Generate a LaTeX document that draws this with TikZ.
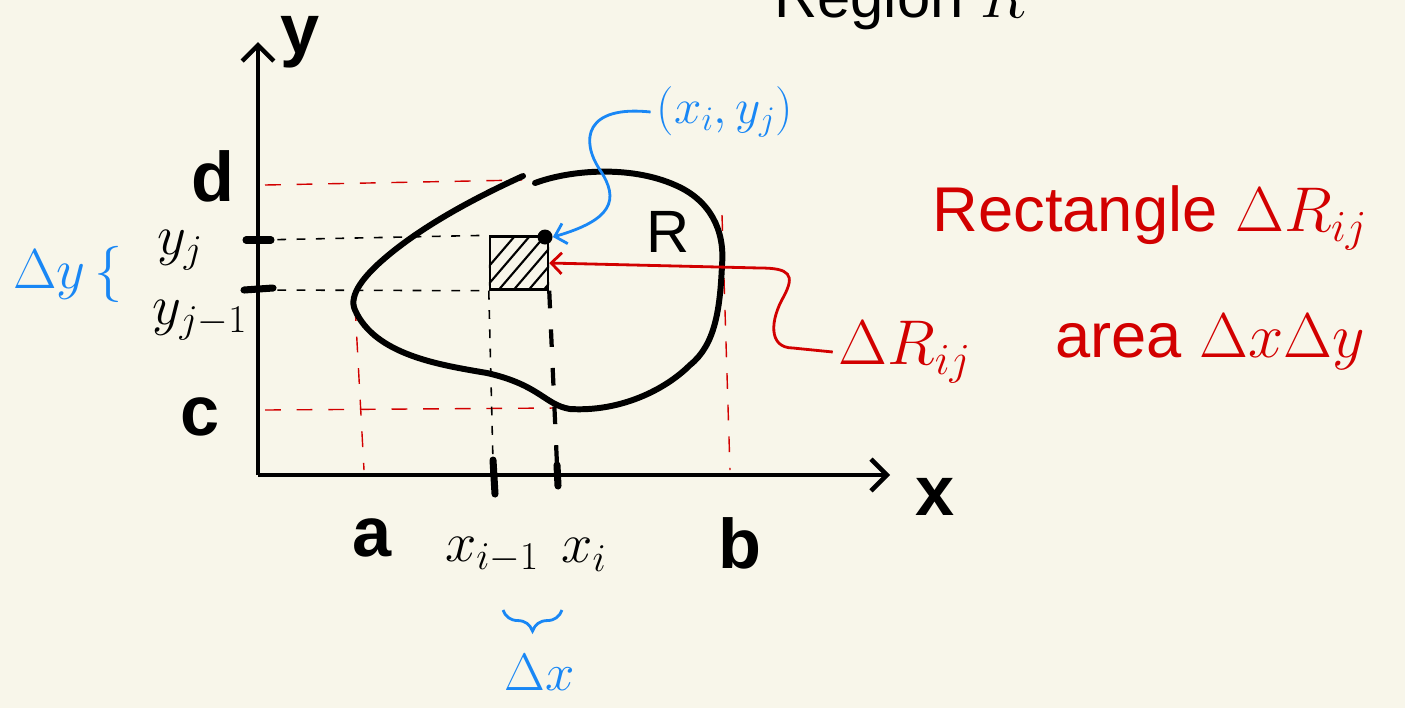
\RequirePackage{fix-cm}
\documentclass[tikz,border=0pt]{standalone}
\usepackage{fontspec}
\setmainfont{Liberation Sans}
\usetikzlibrary{arrows.meta,decorations.pathreplacing,positioning}
\definecolor{paper}{RGB}{248,246,234}
\definecolor{inkred}{RGB}{210,0,0}
\definecolor{inkblue}{RGB}{25,135,245}
\tikzset{
  axisline/.style={line width=2.6pt,-{Straight Barb[length=9pt,width=18pt]}},
  boundary/.style={line width=3.4pt,line cap=round},
  guidered/.style={inkred,line width=0.8pt,dash pattern=on 9pt off 9pt},
  guideblack/.style={line width=0.9pt,dash pattern=on 5pt off 6pt},
  tickmark/.style={line width=4pt,line cap=round},
  endlbl/.style={font=\bfseries\fontsize{40}{40}\selectfont},
  varlbl/.style={font=\fontsize{32}{32}\selectfont},
  redlbl/.style={inkred,font=\fontsize{36}{40}\selectfont},
  bluelbl/.style={inkblue,font=\fontsize{28}{30}\selectfont},
  cellbox/.style={draw,line width=1.4pt,minimum width=1.16cm,minimum height=1.06cm,inner sep=0pt},
  bluearrow/.style={inkblue,line width=1.6pt,-{Straight Barb[length=6pt,width=12pt]}},
  redarrow/.style={inkred,line width=1.6pt,-{Straight Barb[length=6pt,width=12pt]}}
}
\begin{document}
\begin{tikzpicture}[x=0.02cm,y=-0.02cm]
\fill[paper] (0,0) rectangle (1405,708);
\useasboundingbox (0,0) rectangle (1405,708);
% title, cut at the top
\node[anchor=base west,font=\fontsize{34}{34}\selectfont] (titlelbl) at (768,17) {Region $R$};
% axes
\coordinate (O) at (258,475);
\coordinate (ytop) at (258,42);
\coordinate (xend) at (890,475);
\draw[axisline] (O) -- (ytop);
\draw[axisline] (O) -- (xend);
\node[endlbl] (ylbl) at (300,42) {y};
\node[endlbl] (xlbl) at (935,497) {x};
% guides to a, b, c, d
\draw[guidered] (265,185) -- (522,180);
\draw[guidered] (265,410) -- (556,408);
\draw[guidered] (355,305) -- (364,470);
\draw[guidered] (722,215) -- (730,470);
% region R
\draw[boundary] (535,183) .. controls (570,170) and (630,165) .. (675,185)
  .. controls (710,200) and (725,230) .. (722,265)
  .. controls (720,310) and (715,345) .. (690,365)
  .. controls (665,390) and (620,412) .. (570,409)
  .. controls (545,405) and (540,385) .. (487,373)
  .. controls (440,365) and (375,355) .. (355,310)
  .. controls (348,295) and (365,275) .. (385,258)
  .. controls (420,228) and (470,200) .. (523,176);
\node[font=\fontsize{34}{34}\selectfont] (Rlbl) at (668,232) {R};
% the small rectangle
\node[cellbox] (cell) at (519,263) {};
\begin{scope}
\clip (cell.south west) rectangle (cell.north east);
\foreach \k in {460,475,...,560}
  \draw[line width=1.2pt] (\k,300) -- (\k+60,230);
\end{scope}
\node[circle,fill,inner sep=0pt,minimum size=0.3cm] (dot) at (545,237) {};
% grid lines through the rectangle
\draw[guideblack] (258,240) -- (cell.north west);
\draw[guideblack] (258,290) -- (cell.south west);
\draw[guideblack] (cell.south west) -- (493,462);
\draw[line width=2.4pt,dash pattern=on 10pt off 12pt] (cell.south east) -- (557,465);
% ticks
\draw[tickmark] (246,240) -- (271,240);
\draw[tickmark] (244,290) -- (273,288);
\draw[tickmark] (493,460) -- (495,494);
\draw[tickmark] (557,465) -- (558,486);
% end labels
\node[endlbl] (dlbl) at (213,176) {d};
\node[endlbl] (clbl) at (200,417) {c};
\node[endlbl] (albl) at (372,538) {a};
\node[endlbl] (blbl) at (740,543) {b};
% grid labels
\node[varlbl] (yjlbl) at (180,250) {$y_{j}$};
\node[varlbl] (yjmlbl) at (200,320) {$y_{j-1}$};
\node[varlbl] (ximlbl) at (492,555) {$x_{i-1}$};
\node[varlbl] (xilbl) at (584,555) {$x_{i}$};
% widths
\node[bluelbl,font=\fontsize{32}{32}\selectfont] (dylbl) at (68,274) {$\Delta y\,\{$};
\draw[inkblue,line width=1.6pt,decorate,decoration={brace,mirror,amplitude=12pt}] (503,610) -- (562,610);
\node[bluelbl,font=\fontsize{30}{30}\selectfont] (dxlbl) at (540,672) {$\Delta x$};
% point label
\node[bluelbl] (ptlbl) at (725,112) {$(x_{i},y_{j})$};
\draw[bluearrow] (ptlbl.west) .. controls (585,105) and (580,140) .. (600,170)
  .. controls (620,200) and (612,220) .. (dot.east);
% notes on the right
\node[redlbl] (rectlbl) at (1150,218) {Rectangle $\Delta R_{ij}$};
\node[redlbl] (ARlbl) at (905,352) {$\Delta R_{ij}$};
\node[redlbl] (arealbl) at (1210,342) {area $\Delta x\Delta y$};
\draw[redarrow] (ARlbl.west) -- (793,348) .. controls (768,348) and (770,320) .. (784,296)
  .. controls (795,275) and (790,268) .. (760,268) -- (cell.east);
\end{tikzpicture}
\end{document}
